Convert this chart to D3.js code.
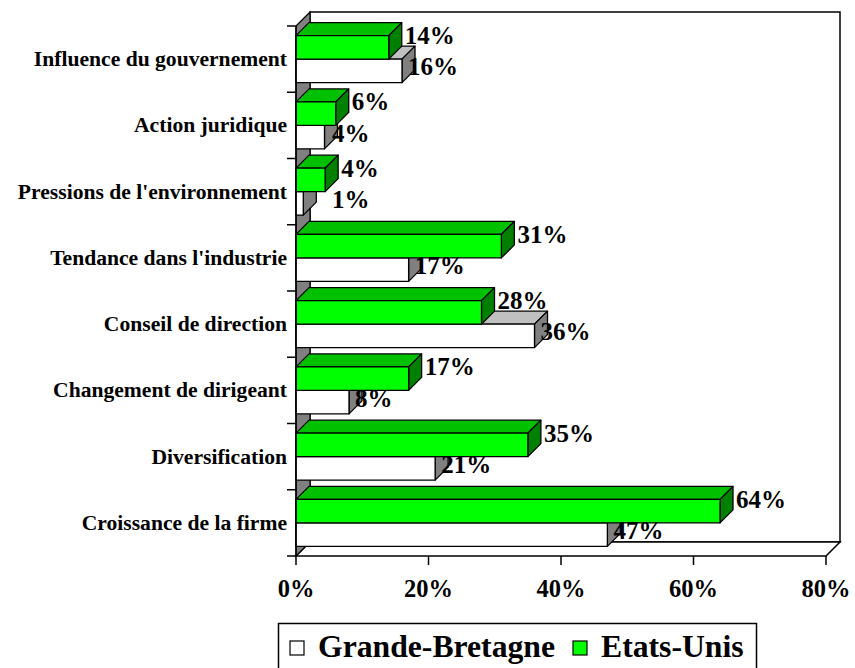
<!DOCTYPE html>
<html>
<head>
<meta charset="utf-8">
<script src="https://cdn.jsdelivr.net/npm/d3@7"></script>
<style>
  html, body { margin: 0; padding: 0; background: #fff; }
  svg { display: block; font-family: "Liberation Serif", "Times New Roman", serif; font-weight: bold; }
</style>
</head>
<body>
<svg id="chart" width="855" height="668"></svg>
<script>
// categories, top to bottom as shown
const categories = [
    "Influence du gouvernement",
    "Action juridique",
    "Pressions de l'environnement",
    "Tendance dans l'industrie",
    "Conseil de direction",
    "Changement de dirigeant",
    "Diversification",
    "Croissance de la firme"
];
const seriesNames = ["Grande-Bretagne", "Etats-Unis"];
const etatsUnis = [14, 6, 4.4, 31, 28, 17, 35, 64];
const grandeBretagne = [16, 4.3, 1.1, 17, 36, 8, 21, 47];
const xTicks = [0, 20, 40, 60, 80];

const svg = d3.select("#chart");

// plot frame (front plane) and 3D depth
const plot = { left: 296, right: 826, top: 26, bottom: 556 };
const wall = { dx: 14, dy: -14 };
const bar = { dx: 13, dy: -13 };

const x = d3.scaleLinear().domain([0, 80]).range([plot.left, plot.right]);
const y = d3.scaleBand().domain(categories).range([plot.top, plot.bottom]);
const ySub = d3.scaleBand().domain(["us", "gb"]).range([0, y.bandwidth()]).paddingOuter(0.41);

const pct = v => d3.format(".0f")(v) + "%";
const poly = pts => "M" + pts.map(p => p.join(",")).join("L") + "Z";

// back wall
svg.append("rect")
    .attr("x", plot.left + wall.dx).attr("y", plot.top + wall.dy)
    .attr("width", plot.right - plot.left).attr("height", plot.bottom - plot.top)
    .attr("fill", "#fff").attr("stroke", "#000").attr("stroke-width", 1.5);

// floor
svg.append("path")
    .attr("d", poly([[plot.left, plot.bottom], [plot.right, plot.bottom],
        [plot.right + wall.dx, plot.bottom + wall.dy], [plot.left + wall.dx, plot.bottom + wall.dy]]))
    .attr("fill", "#fff").attr("stroke", "#000").attr("stroke-width", 1.5);

// left side wall
svg.append("path")
    .attr("d", poly([[plot.left, plot.top], [plot.left + wall.dx, plot.top + wall.dy],
        [plot.left + wall.dx, plot.bottom + wall.dy], [plot.left, plot.bottom]]))
    .attr("fill", "#808080").attr("stroke", "#000").attr("stroke-width", 1.2);

// build one 3D bar
function drawBar(g, v, top, h, colors) {
    const x0 = x(0), x1 = x(v), y0 = top, y1 = top + h;
    g.append("path")
        .attr("d", poly([[x0, y0], [x1, y0], [x1 + bar.dx, y0 + bar.dy], [x0 + bar.dx, y0 + bar.dy]]))
        .attr("fill", colors.top);
    g.append("path")
        .attr("d", poly([[x1, y0], [x1 + bar.dx, y0 + bar.dy], [x1 + bar.dx, y1 + bar.dy], [x1, y1]]))
        .attr("fill", colors.side);
    g.append("rect")
        .attr("x", x0).attr("y", y0).attr("width", x1 - x0).attr("height", h)
        .attr("fill", colors.front);
    g.selectAll("path, rect").attr("stroke", "#000").attr("stroke-width", 1.3).attr("stroke-linejoin", "round");
}

const gbColors = { front: "#ffffff", top: "#c0c0c0", side: "#808080" };
const usColors = { front: "#00ff00", top: "#00c000", side: "#008000" };

const bars = svg.append("g");
categories.forEach((c, i) => {
    const g = bars.append("g");
    drawBar(g.append("g"), grandeBretagne[i], y(c) + ySub("gb"), ySub.bandwidth(), gbColors);
    drawBar(g.append("g"), etatsUnis[i], y(c) + ySub("us"), ySub.bandwidth(), usColors);
});

// value labels
const labels = svg.append("g").attr("font-size", 25).attr("fill", "#000");
categories.forEach((c, i) => {
    labels.append("text")
        .attr("x", Math.max(x(grandeBretagne[i]) + 6, x(0) + 36))
        .attr("y", y(c) + ySub("gb") + ySub.bandwidth() / 2 - 4)
        .attr("dominant-baseline", "central")
        .text(pct(grandeBretagne[i]));
    labels.append("text")
        .attr("x", x(etatsUnis[i]) + 16)
        .attr("y", y(c) + ySub("us"))
        .attr("dominant-baseline", "central")
        .text(pct(etatsUnis[i]));
});

// y axis
const yAxis = svg.append("g");
yAxis.append("line")
    .attr("x1", plot.left).attr("x2", plot.left).attr("y1", plot.top).attr("y2", plot.bottom)
    .attr("stroke", "#000").attr("stroke-width", 1.5);
yAxis.selectAll(".tick")
    .data(categories.map(c => y(c)).concat([plot.bottom]))
    .join("line")
    .attr("x1", plot.left - 9).attr("x2", plot.left)
    .attr("y1", d => d).attr("y2", d => d)
    .attr("stroke", "#000").attr("stroke-width", 1.5);
yAxis.selectAll("text")
    .data(categories)
    .join("text")
    .attr("x", plot.left - 9)
    .attr("y", d => y(d) + y.bandwidth() / 2)
    .attr("text-anchor", "end")
    .attr("dominant-baseline", "central")
    .attr("font-size", 21.6)
    .text(d => d);

// x axis
const xAxis = svg.append("g");
xAxis.selectAll("line")
    .data(xTicks)
    .join("line")
    .attr("x1", d => x(d)).attr("x2", d => x(d))
    .attr("y1", plot.bottom).attr("y2", plot.bottom + 9)
    .attr("stroke", "#000").attr("stroke-width", 1.5);
xAxis.selectAll("text")
    .data(xTicks)
    .join("text")
    .attr("x", d => x(d))
    .attr("y", plot.bottom + 32)
    .attr("text-anchor", "middle")
    .attr("dominant-baseline", "central")
    .attr("font-size", 24.5)
    .text(d => d + "%");

// legend
const legend = svg.append("g");
legend.append("rect")
    .attr("x", 278.5).attr("y", 623.5).attr("width", 478).attr("height", 60)
    .attr("fill", "#fff").attr("stroke", "#000").attr("stroke-width", 1.5);
const legendItems = [
    { name: seriesNames[0], color: gbColors.front, x: 290 },
    { name: seriesNames[1], color: usColors.front, x: 573 }
];
legendItems.forEach(d => {
    legend.append("rect")
        .attr("x", d.x).attr("y", 641).attr("width", 14).attr("height", 14)
        .attr("fill", d.color).attr("stroke", "#000").attr("stroke-width", 1.2);
    legend.append("text")
        .attr("x", d.x + 28).attr("y", 657)
        .attr("font-size", 31.7)
        .text(d.name);
});
</script>
</body>
</html>
